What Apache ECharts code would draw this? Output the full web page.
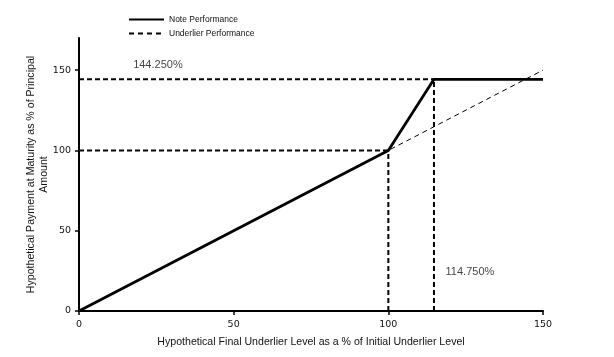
<!DOCTYPE html>
<html><head><meta charset="utf-8">
<script src="https://cdn.jsdelivr.net/npm/echarts@6/dist/echarts.min.js"></script>
<style>html,body{margin:0;padding:0;background:#fff}#c{width:614px;height:357px}</style>
</head><body><div id="c"></div>
<script>
var xTicks = [0, 50, 100, 150];
var yTicks = [0, 50, 100, 150];
var notePerformance = [[0, 0], [100, 100], [114.75, 144.25], [150, 144.25]];
var underlierPerformance = [[0, 0], [150, 150]];
var refH100 = [[0, 100], [100, 100]];
var refV100 = [[100, 0], [100, 100]];
var refH144 = [[0, 144.25], [114.75, 144.25]];
var refV114 = [[114.75, 0], [114.75, 144.25]];
var annotations = [
  { value: [17.5, 153.5], text: '144.250%' },
  { value: [118.5, 24], text: '114.750%' }
];

var chart = echarts.init(document.getElementById('c'), null, { renderer: 'canvas' });
var refStyle = { color: '#000', width: 2, type: [5, 3] };
function refSeries(data) {
  return { type: 'line', data: data, symbol: 'none', silent: true, lineStyle: refStyle, z: 2, animation: false };
}
chart.setOption({
  animation: false,
  grid: { left: 79, right: 71, top: 38, bottom: 46, containLabel: false },
  legend: {
    orient: 'vertical', left: 123, top: 10, itemWidth: 35, itemHeight: 8, itemGap: 5,
    data: ['Note Performance', 'Underlier Performance'],
    itemStyle: { opacity: 0 },
    textStyle: { fontFamily: 'Liberation Sans', fontSize: 8.5, color: '#111' }
  },
  xAxis: {
    type: 'value', min: 0, max: 150, interval: 50,
    name: 'Hypothetical Final Underlier Level as a % of Initial Underlier Level',
    nameLocation: 'middle', nameGap: 26,
    nameTextStyle: { fontFamily: 'Liberation Sans', fontSize: 10.6, color: '#111' },
    axisLine: { lineStyle: { color: '#000', width: 2 } },
    axisTick: { show: true, length: 4, lineStyle: { color: '#000', width: 1.5 }, customValues: xTicks },
    axisLabel: { fontFamily: 'DejaVu Sans', fontSize: 9.5, color: '#111', margin: 9, customValues: xTicks },
    splitLine: { show: false }
  },
  yAxis: {
    type: 'value', min: 0, max: 170, interval: 50,
    name: 'Hypothetical Payment at Maturity as % of Principal\nAmount',
    nameLocation: 'middle', nameGap: 28, nameRotate: 90, nameMoveOverlap: false,
    nameTextStyle: { fontFamily: 'Liberation Sans', fontSize: 10.6, color: '#111', lineHeight: 13.5 },
    axisLine: { show: true, lineStyle: { color: '#000', width: 2 } },
    axisTick: { show: true, length: 4, lineStyle: { color: '#000', width: 1.5 }, customValues: yTicks },
    axisLabel: { fontFamily: 'DejaVu Sans', fontSize: 9.5, color: '#111', margin: 8, customValues: yTicks },
    splitLine: { show: false }
  },
  series: [
    refSeries(refH100), refSeries(refV100), refSeries(refH144), refSeries(refV114),
    { name: 'Underlier Performance', type: 'line', data: underlierPerformance, symbol: 'none',
      lineStyle: { color: '#000', width: 1, type: [5, 4] }, itemStyle: { color: '#000' }, z: 3 },
    { name: 'Note Performance', type: 'line', data: notePerformance, symbol: 'none',
      lineStyle: { color: '#000', width: 2.8 }, itemStyle: { color: '#000' }, z: 4 },
    { type: 'scatter', symbolSize: 0, silent: true, z: 5,
      data: annotations.map(function (a) { return { value: a.value, label: { formatter: a.text } }; }),
      label: { show: true, position: 'right', distance: 0, fontFamily: 'Liberation Sans', fontSize: 11, color: '#111' } }
  ]
});
</script></body></html>
